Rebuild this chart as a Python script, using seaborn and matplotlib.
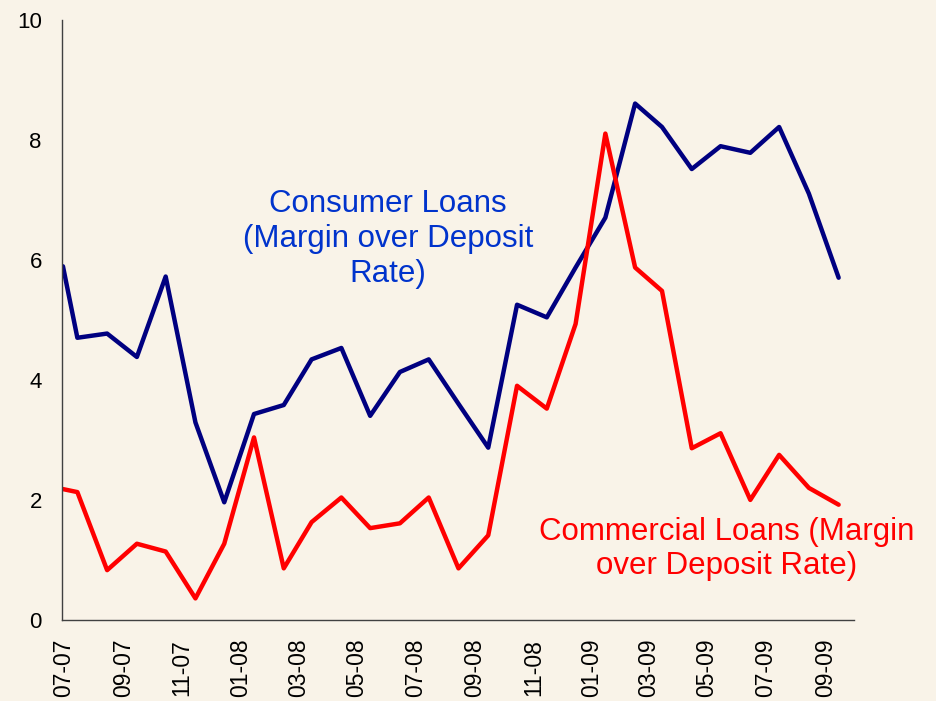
import pandas as pd
import matplotlib.pyplot as plt
import matplotlib.dates as mdates
import seaborn as sns

dates = [
    "2007-06-30", "2007-07-15", "2007-08-15", "2007-09-15", "2007-10-15",
    "2007-11-15", "2007-12-15", "2008-01-15", "2008-02-15", "2008-03-15",
    "2008-04-15", "2008-05-15", "2008-06-15", "2008-07-15", "2008-08-15",
    "2008-09-15", "2008-10-15", "2008-11-15", "2008-12-15", "2009-01-15",
    "2009-02-15", "2009-03-15", "2009-04-15", "2009-05-15", "2009-06-15",
    "2009-07-15", "2009-08-15", "2009-09-15",
]
consumer = [
    5.89, 4.70, 4.77, 4.38, 5.72, 3.29, 1.96, 3.43, 3.58, 4.34,
    4.53, 3.40, 4.13, 4.34, 3.60, 2.87, 5.25, 5.04, 5.87, 6.70,
    8.60, 8.21, 7.51, 7.89, 7.78, 8.21, 7.10, 5.70,
]
commercial = [
    2.18, 2.13, 0.83, 1.27, 1.14, 0.36, 1.27, 3.04, 0.86, 1.63,
    2.04, 1.53, 1.61, 2.04, 0.86, 1.41, 3.90, 3.52, 4.93, 8.10,
    5.87, 5.48, 2.86, 3.11, 2.00, 2.75, 2.20, 1.92,
]
consumer_label = "Consumer Loans\n(Margin over Deposit\nRate)"
commercial_label = "Commercial Loans (Margin\nover Deposit Rate)"

BG = "#f9f3e8"


def main():
    sns.set_style("white")
    plt.rcParams["font.family"] = ["Liberation Sans", "DejaVu Sans"]

    df = pd.DataFrame({
        "date": pd.to_datetime(dates),
        "consumer": consumer,
        "commercial": commercial,
    })

    fig = plt.figure(figsize=(9.37, 7.01), dpi=100, facecolor=BG)
    ax = fig.add_axes([62 / 937, 1 - 620 / 701, 792 / 937, 600.5 / 701])
    ax.set_facecolor(BG)

    sns.lineplot(data=df, x="date", y="consumer", color="#000080", linewidth=3.2, ax=ax)
    sns.lineplot(data=df, x="date", y="commercial", color="#ff0000", linewidth=3.2, ax=ax)

    ax.set_xlim(pd.Timestamp("2007-06-29"), pd.Timestamp("2009-10-01"))
    ax.set_ylim(0, 10)
    ax.set_yticks([0, 2, 4, 6, 8, 10])
    ax.xaxis.set_major_locator(mdates.MonthLocator(bymonth=[1, 3, 5, 7, 9, 11]))
    ax.xaxis.set_major_formatter(mdates.DateFormatter("%m-%y"))
    ax.set_xlabel("")
    ax.set_ylabel("")

    for side in ["top", "right"]:
        ax.spines[side].set_visible(False)
    for side in ["left", "bottom"]:
        ax.spines[side].set_color("#404040")
        ax.spines[side].set_linewidth(1)
    ax.tick_params(axis="both", direction="out", length=4.5, width=1,
                   color="#404040", labelsize=16, pad=10, labelcolor="black")
    ax.tick_params(axis="x", labelrotation=90, labelsize=16.5, pad=9)

    fig.text(388 / 937, 1 - 239 / 701, consumer_label, color="#0033cc",
             fontsize=22.5, ha="center", va="center", multialignment="center")
    fig.text(727 / 937, 1 - 549 / 701, commercial_label, color="#ff0000",
             fontsize=22.5, ha="center", va="center", multialignment="center")

    fig.savefig("out.png", dpi=100, facecolor=BG)
    plt.close(fig)


if __name__ == "__main__":
    main()
